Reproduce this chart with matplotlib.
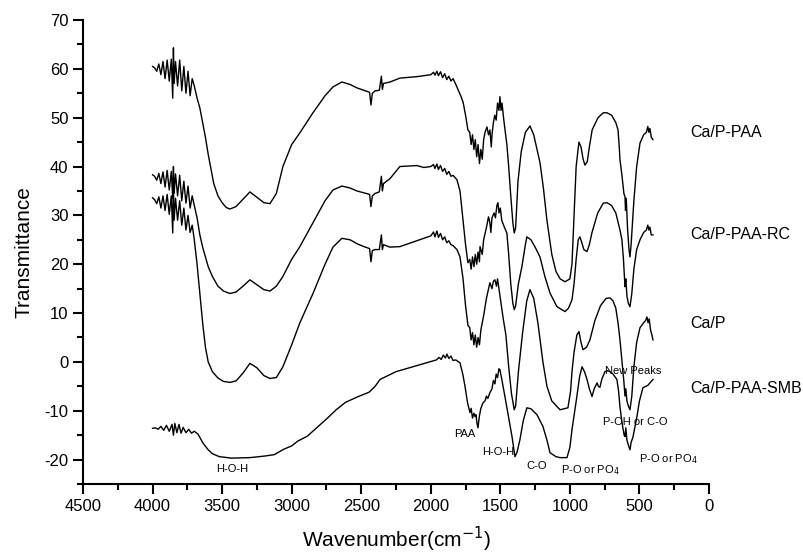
import matplotlib
matplotlib.use("Agg")
import matplotlib.pyplot as plt
from matplotlib.ticker import MultipleLocator

plt.rcParams['font.family'] = ['Liberation Sans', 'DejaVu Sans']
plt.rcParams['axes.unicode_minus'] = False

# ---- spectra (wavenumber, transmittance) ----
wn_paa = [4000, 3985, 3970, 3955, 3940, 3925, 3910, 3895, 3880, 3865, 3855, 3850, 3845, 3835, 3820,
          3805, 3790, 3775, 3760, 3745, 3730, 3715, 3700, 3680, 3660, 3640, 3620, 3600, 3580, 3560,
          3530, 3500, 3470, 3444, 3400, 3350, 3300, 3250, 3200, 3156, 3110, 3063, 3000, 2941, 2847,
          2760, 2703, 2639, 2580, 2531, 2480, 2440, 2430, 2420, 2400, 2370, 2355, 2348, 2340, 2294,
          2222, 2100, 2050, 2000, 1980, 1970, 1956, 1945, 1930, 1915, 1900, 1885, 1870, 1855, 1840,
          1820, 1800, 1785, 1768, 1750, 1733, 1720, 1710, 1700, 1690, 1680, 1670, 1660, 1650, 1640,
          1630, 1620, 1610, 1596, 1585, 1575, 1565, 1560, 1550, 1540, 1530, 1520, 1510, 1503, 1495,
          1488, 1475, 1460, 1453, 1440, 1425, 1410, 1400, 1390, 1373, 1350, 1320, 1287, 1260, 1215,
          1190, 1165, 1130, 1100, 1070, 1035, 1000, 985, 970, 955, 935, 920, 905, 892, 875,
          860, 840, 798, 760, 733, 700, 670, 654, 645, 640, 625, 612, 604, 600, 595,
          585, 575, 568, 560, 540, 520, 496, 470, 450, 440, 432, 425, 415, 403]
t_paa = [60.5, 60.2, 59.5, 61.0, 58.8, 61.5, 58.0, 61.8, 57.5, 62.0, 54.0, 64.3, 57.0, 61.5, 56.5,
         61.8, 55.5, 60.5, 55.0, 59.5, 54.5, 58.0, 56.5, 54.0, 52.0, 49.0, 46.0, 42.5, 39.5, 36.5,
         34.0, 32.6, 31.6, 31.3, 31.8, 33.3, 34.8, 33.7, 32.6, 32.4, 34.5, 40.0, 44.5, 46.9, 51.0,
         54.5, 56.3, 57.3, 56.8, 56.1, 55.6, 55.2, 52.6, 55.0, 55.5, 55.6, 58.5, 55.8, 57.0, 57.3,
         58.1, 58.4, 58.6, 58.8, 59.3, 58.7, 59.5, 58.6, 59.4, 58.2, 59.0, 57.8, 58.5, 57.5, 58.0,
         56.8, 55.5, 54.5, 53.2, 50.5, 47.5, 47.0, 44.5, 46.5, 43.5, 45.5, 42.0, 44.5, 40.6, 43.5,
         41.5, 45.5, 47.0, 48.1, 46.5, 47.5, 44.0, 46.5, 49.0, 50.5, 49.5, 53.0, 51.5, 54.3, 51.5,
         53.0, 49.5, 46.0, 44.5, 40.0, 34.0, 28.5, 26.4, 27.5, 37.0, 43.0, 47.0, 48.3, 46.5, 40.8,
         35.5, 29.0, 22.0, 18.5, 17.0, 16.4, 17.0, 20.0, 30.0, 40.0, 45.0, 44.0, 41.5, 40.3, 41.0,
         44.0, 47.5, 50.0, 51.0, 51.0, 50.5, 49.0, 47.5, 44.0, 41.4, 38.0, 34.5, 33.8, 31.0, 33.5,
         27.0, 23.0, 21.5, 24.0, 33.0, 40.0, 44.8, 46.5, 47.0, 48.2, 47.0, 47.8, 46.0, 45.5]

wn_rc = [4000, 3985, 3970, 3955, 3940, 3925, 3910, 3895, 3880, 3865, 3855, 3850, 3845, 3835, 3820,
         3805, 3790, 3775, 3760, 3745, 3730, 3715, 3700, 3680, 3660, 3640, 3620, 3600, 3570, 3530,
         3490, 3444, 3400, 3350, 3300, 3250, 3200, 3156, 3110, 3063, 3000, 2941, 2847, 2760, 2703,
         2639, 2580, 2531, 2480, 2440, 2430, 2420, 2400, 2370, 2355, 2348, 2340, 2294, 2222, 2100,
         2050, 2000, 1980, 1970, 1956, 1945, 1930, 1915, 1900, 1885, 1870, 1855, 1840, 1812, 1790,
         1768, 1750, 1733, 1720, 1710, 1700, 1690, 1680, 1670, 1660, 1650, 1646, 1630, 1620, 1600,
         1585, 1575, 1568, 1560, 1545, 1535, 1525, 1517, 1510, 1500, 1490, 1470, 1453, 1440, 1425,
         1410, 1400, 1390, 1370, 1345, 1320, 1309, 1280, 1250, 1215, 1180, 1143, 1093, 1035, 1010,
         985, 970, 955, 940, 928, 915, 900, 877, 860, 841, 800, 760, 733, 700, 670,
         640, 626, 615, 604, 598, 590, 580, 568, 555, 540, 520, 496, 470, 450, 440,
         432, 425, 415, 403]
t_rc = [38.3, 38.0, 37.2, 38.6, 36.5, 38.9, 35.8, 39.2, 35.2, 39.0, 33.5, 40.0, 34.5, 38.5, 34.0,
        38.2, 33.0, 37.0, 32.5, 36.0, 31.5, 34.0, 32.0, 29.5, 26.0, 23.5, 21.5, 19.5, 17.5, 15.5,
        14.5, 14.0, 14.3, 15.5, 16.8, 15.8, 14.8, 14.5, 15.5, 17.5, 21.0, 23.6, 28.5, 33.0, 35.2,
        36.0, 35.6, 35.0, 34.6, 34.3, 31.8, 34.0, 34.5, 34.8, 38.0, 35.0, 36.5, 37.5, 40.0, 40.2,
        39.8, 40.0, 40.4, 39.6, 40.5, 39.4, 40.2, 39.0, 39.6, 38.4, 39.0, 38.0, 38.2, 37.3, 35.0,
        29.0, 24.0, 20.3, 21.0, 19.0, 21.5, 19.5, 22.0, 20.0, 22.5, 20.5, 23.6, 22.0, 25.0, 27.5,
        29.7, 28.5, 26.5, 29.5, 30.5, 29.5, 32.0, 32.6, 30.5, 31.5, 29.0, 27.5, 26.4, 22.0, 16.0,
        12.0, 10.7, 11.5, 16.0, 19.5, 24.0, 25.6, 25.0, 23.5, 21.5, 17.5, 14.1, 11.3, 10.3, 11.0,
        12.7, 16.0, 21.0, 25.0, 25.6, 24.5, 23.0, 22.6, 24.0, 26.5, 30.5, 32.5, 32.6, 32.0, 30.5,
        27.0, 25.0, 21.0, 15.4, 17.0, 13.5, 12.0, 11.3, 14.0, 19.0, 23.0, 25.0, 26.5, 27.0, 28.0,
        27.0, 27.6, 26.0, 26.0]

wn_cap = [4000, 3985, 3970, 3955, 3940, 3925, 3910, 3895, 3880, 3865, 3855, 3850, 3845, 3835, 3820,
          3805, 3790, 3775, 3760, 3745, 3730, 3715, 3700, 3680, 3660, 3640, 3620, 3600, 3570, 3530,
          3490, 3444, 3400, 3350, 3300, 3250, 3200, 3156, 3110, 3063, 3000, 2941, 2847, 2760, 2703,
          2639, 2580, 2531, 2480, 2440, 2430, 2420, 2400, 2370, 2355, 2348, 2340, 2294, 2222, 2100,
          2050, 2000, 1980, 1970, 1956, 1945, 1930, 1915, 1900, 1885, 1870, 1855, 1840, 1812, 1790,
          1768, 1750, 1733, 1720, 1710, 1700, 1690, 1680, 1670, 1660, 1650, 1640, 1620, 1600, 1575,
          1560, 1550, 1539, 1528, 1520, 1510, 1500, 1480, 1460, 1440, 1420, 1400, 1390, 1370, 1340,
          1310, 1287, 1260, 1230, 1194, 1165, 1130, 1071, 1014, 995, 985, 970, 950, 935, 920,
          906, 880, 856, 820, 780, 740, 712, 690, 670, 654, 640, 625, 612, 604, 598,
          590, 580, 568, 555, 540, 520, 496, 470, 455, 446, 438, 430, 420, 410, 403]
t_cap = [33.6, 33.2, 32.4, 33.8, 31.5, 34.0, 31.0, 34.3, 30.2, 34.0, 26.4, 35.0, 29.0, 33.5, 29.0,
         33.0, 28.0, 31.5, 27.0, 30.0, 26.5, 28.0, 25.0, 20.0, 14.0, 8.0, 3.0, 0.0, -2.0, -3.3,
         -4.0, -4.2, -3.9, -2.3, -0.3, -1.2, -2.8, -3.4, -3.2, -1.0, 3.5, 8.0, 14.0, 20.0, 23.5,
         25.3, 25.0, 24.2, 23.6, 23.2, 20.5, 22.8, 23.0, 23.0, 26.0, 23.0, 24.0, 23.5, 23.6, 24.8,
         25.3, 25.8, 26.6, 25.6, 26.8, 25.5, 26.3, 25.0, 25.6, 24.4, 24.8, 24.0, 23.8, 23.0, 21.5,
         17.0, 11.5, 7.5, 7.0, 4.5, 6.0, 3.5, 5.5, 3.0, 5.0, 3.5, 6.5, 9.5, 13.0, 16.2,
         15.0, 16.5, 16.8, 15.5, 17.0, 15.0, 13.0, 9.0, 5.5, -1.0, -6.5, -9.8, -9.0, -2.0, 6.0,
         12.5, 14.8, 13.0, 8.0, 0.0, -5.0, -8.0, -9.8, -9.4, -6.0, -2.0, 2.0, 5.5, 6.2, 4.0,
         2.5, 3.0, 4.5, 8.5, 11.5, 13.0, 13.1, 12.5, 11.0, 8.0, 4.5, 0.0, -4.0, -7.0, -5.5,
         -8.0, -9.0, -9.8, -7.0, -1.0, 4.0, 7.0, 8.0, 8.5, 9.2, 8.0, 8.8, 6.5, 5.5, 4.5]

wn_smb = [4000, 3980, 3960, 3940, 3920, 3900, 3880, 3860, 3850, 3840, 3825, 3810, 3795, 3780, 3760,
          3740, 3720, 3700, 3673, 3638, 3600, 3570, 3520, 3433, 3300, 3200, 3126, 3058, 3000, 2955,
          2887, 2820, 2750, 2680, 2614, 2530, 2443, 2400, 2365, 2250, 2128, 2006, 1960, 1940, 1925,
          1910, 1895, 1884, 1870, 1855, 1840, 1820, 1790, 1770, 1754, 1735, 1718, 1710, 1700, 1690,
          1682, 1675, 1668, 1661, 1650, 1640, 1625, 1610, 1600, 1590, 1575, 1560, 1550, 1539, 1530,
          1520, 1510, 1503, 1490, 1467, 1440, 1416, 1395, 1380, 1359, 1335, 1309, 1280, 1237, 1194,
          1165, 1143, 1100, 1071, 1021, 1000, 985, 965, 950, 930, 913, 895, 877, 860, 841,
          825, 805, 795, 784, 770, 748, 730, 712, 690, 662, 650, 640, 625, 610, 604,
          598, 590, 580, 568, 560, 546, 530, 518, 500, 475, 455, 440, 424, 415, 403]
t_smb = [-13.6, -13.5, -13.8, -13.2, -14.0, -13.0, -14.2, -12.8, -15.0, -12.6, -14.5, -12.8, -14.6, -13.4, -14.5,
         -13.8, -14.6, -14.2, -14.8, -16.6, -18.0, -18.8, -19.4, -19.7, -19.6, -19.3, -19.0, -17.9, -17.2, -16.2,
         -15.2, -13.5, -11.7, -9.8, -8.3, -7.2, -6.2, -5.0, -3.6, -2.0, -1.0, 0.0, 0.4, 0.9, 0.5,
         1.4, 0.8, 1.6, 0.7, 1.2, 0.3, 0.4, -0.2, -2.5, -5.0, -8.5, -10.4, -9.5, -11.5, -10.5,
         -11.2, -10.8, -12.5, -13.5, -11.0, -9.5, -8.4, -8.0, -7.0, -7.5, -6.3, -5.5, -3.8, -4.5, -2.5,
         -3.2, -1.4, -1.6, -3.5, -7.1, -11.5, -15.3, -19.4, -18.5, -15.9, -12.0, -9.4, -9.6, -10.8, -13.2,
         -16.0, -18.6, -19.4, -19.6, -19.6, -17.5, -13.9, -10.0, -7.1, -3.0, -1.0, -2.0, -3.6, -5.5, -7.1,
         -5.5, -4.3, -5.0, -5.2, -3.5, -2.0, -1.8, -2.0, -2.5, -3.6, -6.0, -9.2, -12.5, -15.0, -15.3,
         -13.5, -16.0, -17.0, -18.0, -16.5, -15.3, -13.0, -11.2, -8.0, -5.3, -5.0, -4.8, -4.3, -4.0, -3.6]

# sample names and band labels
series_names = ['Ca/P-PAA', 'Ca/P-PAA-RC', 'Ca/P', 'Ca/P-PAA-SMB']
name_pos = [(137, 47.0), (137, 26.0), (134, 7.8), (137, -5.5)]
band_labels = ['H-O-H', 'PAA', 'H-O-H', 'C-O', 'P-O or PO$_4$', 'New Peaks', 'P-OH or C-O', 'P-O or PO$_4$']
band_pos = [(3430, -22.0), (1754, -14.7), (1517, -18.4), (1237, -21.4), (856, -22.2),
            (546, -1.8), (532, -12.4), (295, -20.0)]

fig = plt.figure(figsize=(8.04, 5.53), dpi=100)
ax = fig.add_axes([83 / 804, 1 - 484 / 553, 626 / 804, 464 / 553])

for wn, t in [(wn_paa, t_paa), (wn_rc, t_rc), (wn_cap, t_cap), (wn_smb, t_smb)]:
    ax.plot(wn, t, color='black', linewidth=1.0)

for name, (x, y) in zip(series_names, name_pos):
    ax.text(x, y, name, fontsize=11.5, ha='left', va='center')

for lab, (x, y) in zip(band_labels, band_pos):
    ax.text(x, y, lab, fontsize=8, ha='center', va='center')

ax.set_xlim(4500, 0)
ax.set_ylim(-25, 70)
ax.xaxis.set_major_locator(MultipleLocator(500))
ax.xaxis.set_minor_locator(MultipleLocator(250))
ax.yaxis.set_minor_locator(MultipleLocator(5))
ax.set_yticks(range(-20, 71, 10))

for s in ['top', 'right']:
    ax.spines[s].set_visible(False)
for s in ['left', 'bottom']:
    ax.spines[s].set_linewidth(1.5)

ax.tick_params(which='major', direction='out', length=7, width=1.5, labelsize=12)
ax.tick_params(which='minor', direction='out', length=4, width=1.5)

ax.set_xlabel('Wavenumber(cm$^{-1}$)', fontsize=15, labelpad=8)
ax.set_ylabel('Transmittance', fontsize=15, labelpad=8)

fig.savefig('out.png', dpi=100)
